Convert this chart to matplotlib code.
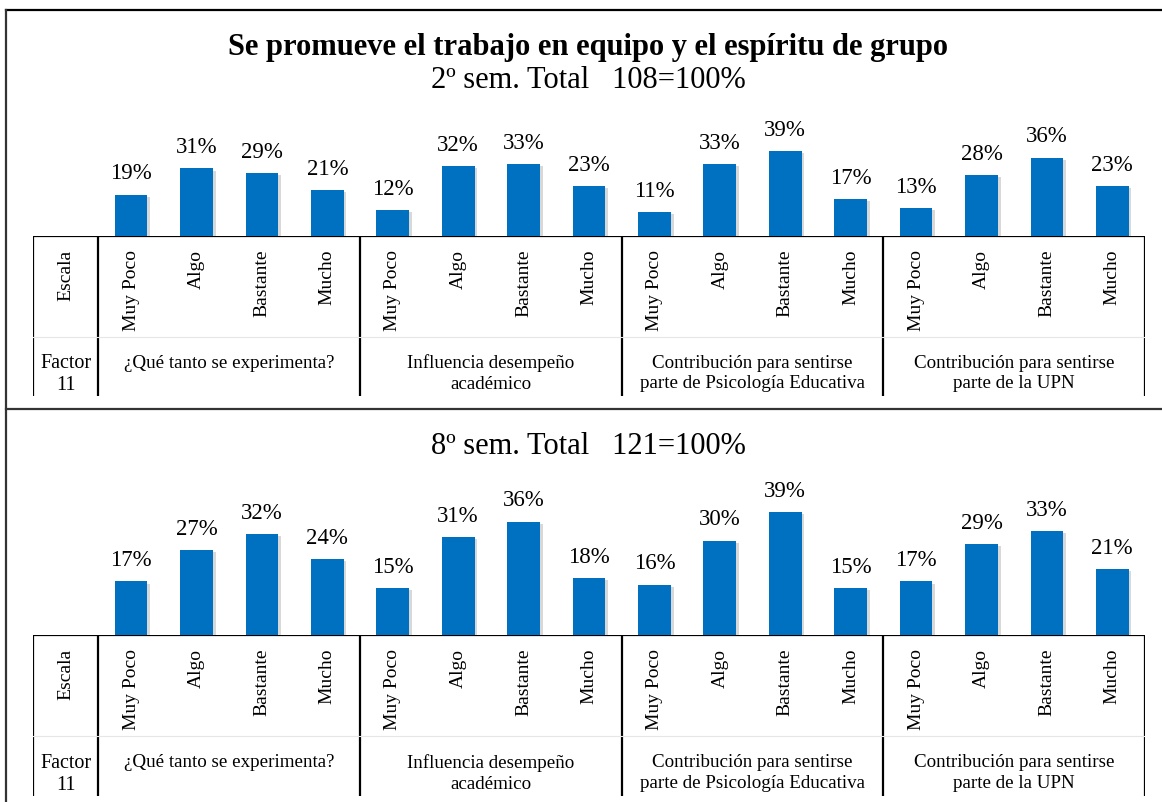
import matplotlib
matplotlib.use("Agg")
import matplotlib.pyplot as plt
import matplotlib.patheffects as pe
from matplotlib.lines import Line2D

plt.rcParams["font.family"] = ["Liberation Serif", "DejaVu Serif"]

# ── data ──
TITLE = "Se promueve el trabajo en equipo y el espíritu de grupo"
SUB_2 = "2º sem. Total   108=100%"
SUB_8 = "8º sem. Total   121=100%"
ESCALA = ["Muy Poco", "Algo", "Bastante", "Mucho"]
GRUPOS = ["¿Qué tanto se experimenta?",
          "Influencia desempeño\nacadémico",
          "Contribución para sentirse\nparte de Psicología Educativa",
          "Contribución para sentirse\nparte de la UPN"]
VAL_2 = [19, 31, 29, 21, 12, 32, 33, 23, 11, 33, 39, 17, 13, 28, 36, 23]
VAL_8 = [17, 27, 32, 24, 15, 31, 36, 18, 16, 30, 39, 15, 17, 29, 33, 21]

BLUE = "#0070C0"
W, H = 1162, 803

fig = plt.figure(figsize=(W / 100, H / 100), dpi=100)


def fy(px):
    return 1 - px / H


def panel(vals, top_px, base_px, bot_px, px_per_pct):
    left, right = 33 / W, 1145 / W
    ax = fig.add_axes([left, fy(base_px), right - left, fy(top_px) - fy(base_px)])
    tb = fig.add_axes([left, fy(bot_px), right - left, fy(base_px) - fy(bot_px)], sharex=ax)

    x = list(range(1, len(vals) + 1))
    bars = ax.bar(x, vals, width=0.5, color=BLUE, zorder=3)
    for b in bars:
        b.set_path_effects([pe.SimplePatchShadow(offset=(2, -1.5), shadow_rgbFace="#808080", alpha=0.3),
                            pe.Normal()])
    ax.bar_label(bars, labels=[f"{v}%" for v in vals], padding=8, fontsize=16.5)
    ax.set_xlim(-0.5, 16.5)
    ax.set_ylim(0, (base_px - top_px) / px_per_pct)
    ax.axis("off")

    # table under the bars
    tb.set_ylim(1, 0)
    tb.axis("off")
    tb.plot([-0.5, 16.5], [0, 0], color="black", lw=1.6, solid_capstyle="butt")
    for xv in [-0.5, 0.5, 4.5, 8.5, 12.5, 16.5]:
        tb.plot([xv, xv], [0, 1], color="black", lw=1.6, solid_capstyle="butt")
    tb.plot([-0.5, 16.5], [0.63, 0.63], color="#e6e6e6", lw=0.8)
    tb.text(0, 0.08, "Escala", rotation=90, ha="center", va="top", fontsize=14)
    for i in range(16):
        tb.text(i + 1, 0.08, ESCALA[i % 4], rotation=90, ha="center", va="top", fontsize=14)
    tb.text(0, 0.73, "Factor\n11", ha="center", va="top", fontsize=14.5, linespacing=1.22)
    for g, lab in enumerate(GRUPOS):
        tb.text(2.5 + 4 * g, 0.735, lab, ha="center", va="top", fontsize=13.7, linespacing=1.28)


panel(VAL_2, 120, 237, 397, 2.18)
panel(VAL_8, 490, 636, 797, 3.15)

fig.text(588 / W, fy(48), TITLE, ha="center", va="center", fontsize=22, fontweight="bold")
fig.text(588 / W, fy(81), SUB_2, ha="center", va="center", fontsize=22)
fig.text(588 / W, fy(447), SUB_8, ha="center", va="center", fontsize=22)

# outer frame
for xs, ys, c in [([6, W], [11, 11], "black"),
                  ([6, 6], [11, H], "#333333"),
                  ([6, W], [410, 410], "#333333")]:
    fig.add_artist(Line2D([x / W for x in xs], [fy(y) for y in ys], color=c, lw=1.6))

fig.savefig("out.png", dpi=100)
